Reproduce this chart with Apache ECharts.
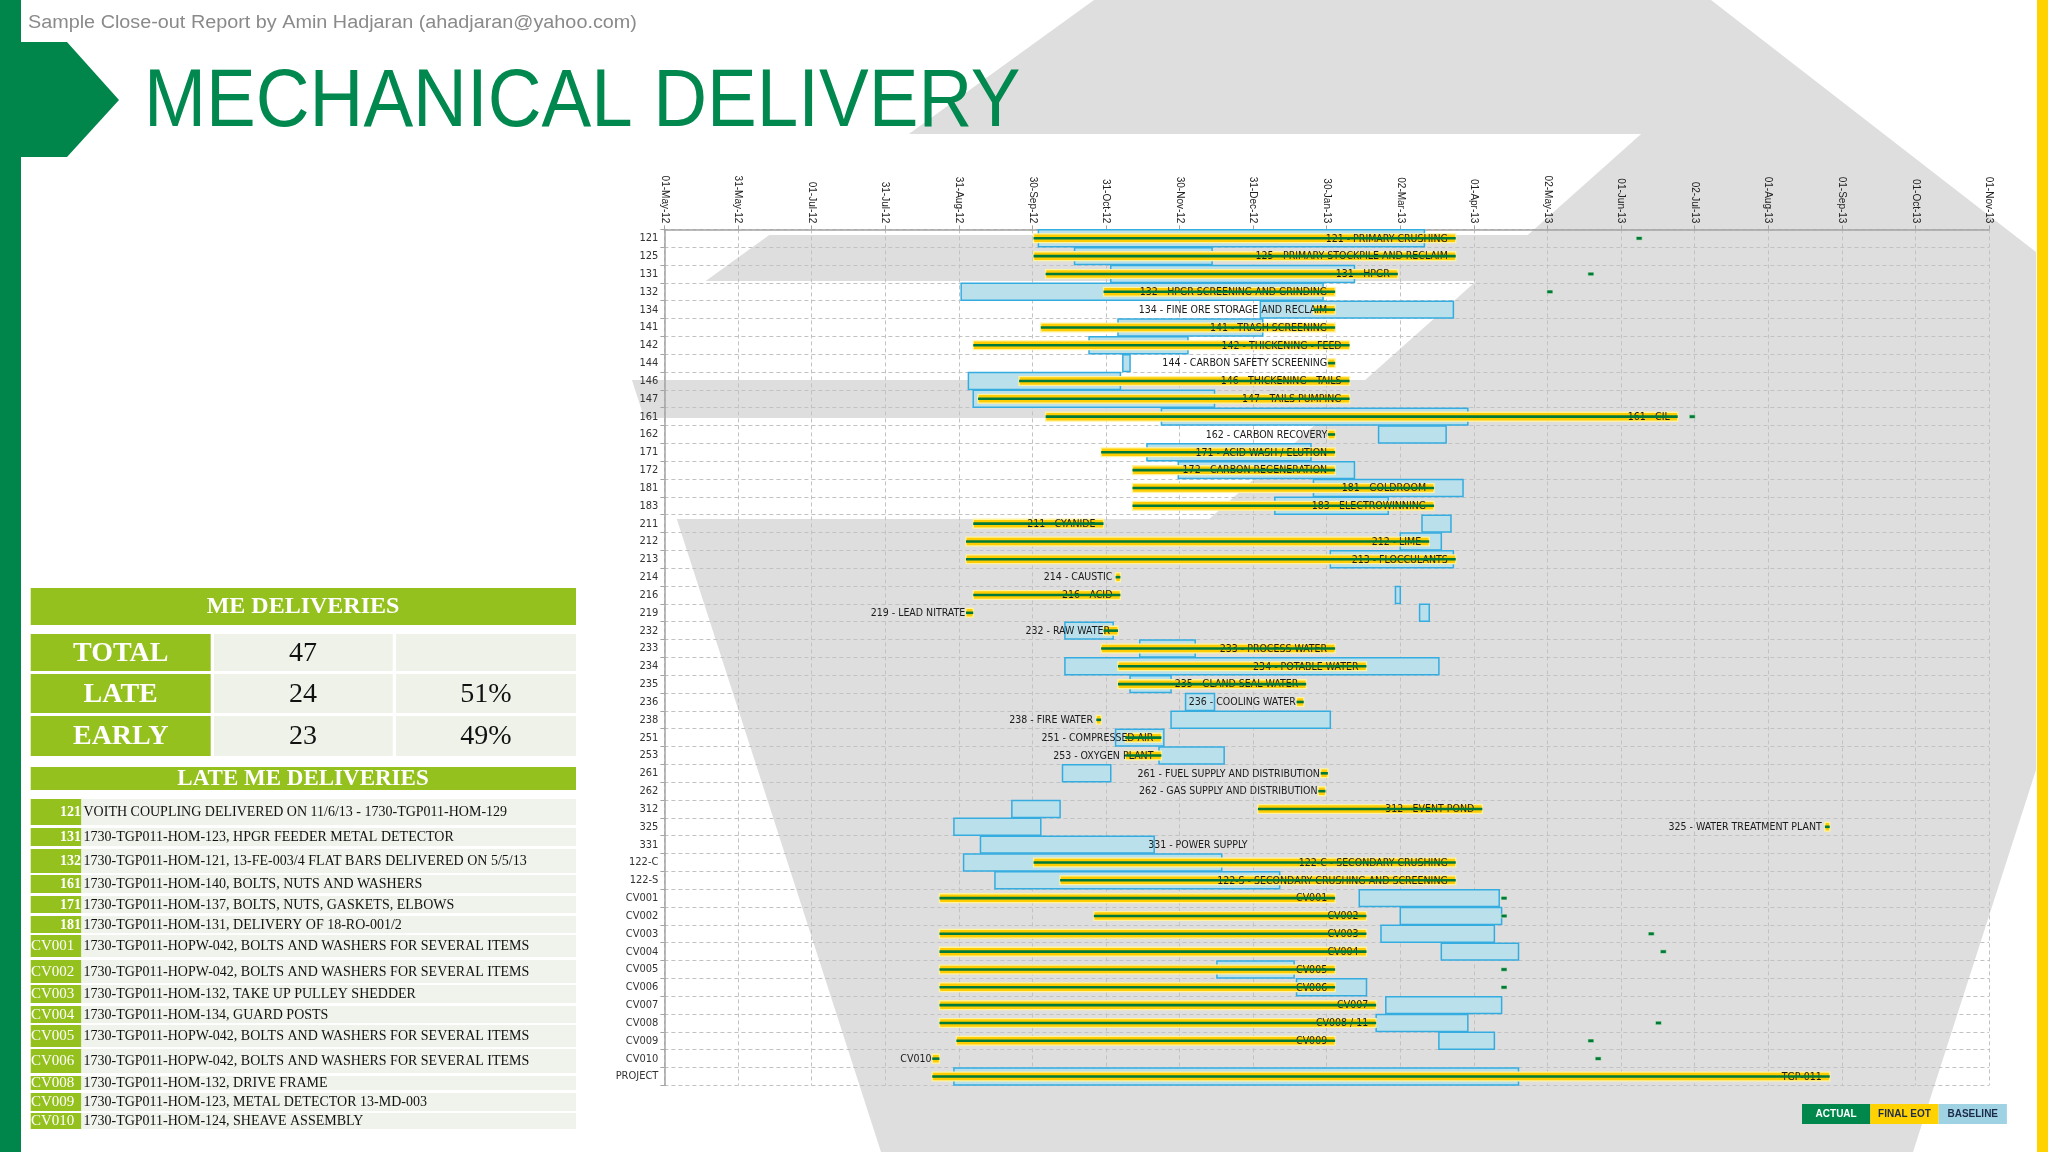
<!DOCTYPE html>
<html>
<head>
<meta charset="utf-8">
<script src="https://cdn.jsdelivr.net/npm/echarts/dist/echarts.min.js"></script>
<style>
html,body{margin:0;padding:0;background:#ffffff;}
#c{width:2048px;height:1152px;}
</style>
</head>
<body>
<div id="c"></div>
<script>
// ---------------- DATA ----------------
const rowCodes = ['121','125','131','132','134','141','142','144','146','147','161','162','171','172','181','183',
  '211','212','213','214','216','219','232','233','234','235','236','238','251','253','261','262',
  '312','325','331','122-C','122-S','CV001','CV002','CV003','CV004','CV005','CV006','CV007','CV008','CV009','CV010','PROJECT'];

const rowNames = ['121 - PRIMARY CRUSHING','125 - PRIMARY STOCKPILE AND RECLAIM','131 - HPGR','132 - HPGR SCREENING AND GRINDING',
  '134 - FINE ORE STORAGE AND RECLAIM','141 - TRASH SCREENING','142 - THICKENING - FEED','144 - CARBON SAFETY SCREENING',
  '146 - THICKENING - TAILS','147 - TAILS PUMPING','161 - CIL','162 - CARBON RECOVERY','171 - ACID WASH / ELUTION',
  '172 - CARBON REGENERATION','181 - GOLDROOM','183 - ELECTROWINNING','211 - CYANIDE','212 - LIME','213 - FLOCCULANTS',
  '214 - CAUSTIC','216 - ACID','219 - LEAD NITRATE','232 - RAW WATER','233 - PROCESS WATER','234 - POTABLE WATER',
  '235 - GLAND SEAL WATER','236 - COOLING WATER','238 - FIRE WATER','251 - COMPRESSED AIR','253 - OXYGEN PLANT',
  '261 - FUEL SUPPLY AND DISTRIBUTION','262 - GAS SUPPLY AND DISTRIBUTION','312 - EVENT POND','325 - WATER TREATMENT PLANT',
  '331 - POWER SUPPLY','122-C - SECONDARY CRUSHING','122-S - SECONDARY CRUSHING AND SCREENING','CV001','CV002','CV003',
  'CV004','CV005','CV006','CV007','CV008 / 11','CV009','CV010','TGP-011'];

const baselineStart = ['2012-10-03','2012-10-18','2012-11-02','2012-09-01','2013-01-03','2012-11-05','2012-10-24','2012-11-07',
  '2012-09-04','2012-09-06','2012-11-23','2013-02-21','2012-11-17','2012-11-30','2013-01-25','2013-01-09',
  '2013-03-11','2013-03-02','2013-02-01',null,'2013-02-28','2013-03-10','2012-10-14','2012-11-14','2012-10-14',
  '2012-11-10','2012-12-03','2012-11-27','2012-11-04','2012-11-22','2012-10-13',null,
  '2012-09-22','2012-08-29','2012-09-09','2012-09-02','2012-09-15','2013-02-13','2013-03-02','2013-02-22',
  '2013-03-19','2012-12-16','2013-01-18','2013-02-24','2013-02-20','2013-03-18',null,'2012-08-29'];
const baselineEnd = ['2013-03-12','2012-12-14','2013-02-11','2013-01-29','2013-03-24','2013-01-04','2012-12-04','2012-11-10',
  '2012-11-06','2012-12-15','2013-03-30','2013-03-21','2013-01-24','2013-02-11','2013-03-28','2013-02-25',
  '2013-03-23','2013-03-19','2013-03-24',null,'2013-03-02','2013-03-14','2012-11-03','2012-12-07','2013-03-18',
  '2012-11-27','2012-12-15','2013-02-01','2012-11-24','2012-12-19','2012-11-02',null,
  '2012-10-12','2012-10-04','2012-11-20','2012-12-18','2013-01-11','2013-04-12','2013-04-13','2013-04-10',
  '2013-04-20','2013-01-17','2013-02-16','2013-04-13','2013-03-30','2013-04-10',null,'2013-04-20'];

const finalEotStart = ['2012-10-01','2012-10-01','2012-10-06','2012-10-30','2013-01-25','2012-10-04','2012-09-06','2013-01-31',
  '2012-09-25','2012-09-08','2012-10-06','2013-01-31','2012-10-29','2012-11-11','2012-11-11','2012-11-11',
  '2012-09-06','2012-09-03','2012-09-03','2012-11-04','2012-09-06','2012-09-03','2012-10-30','2012-10-29','2012-11-05',
  '2012-11-05','2013-01-18','2012-10-27','2012-11-08','2012-11-08','2013-01-28','2013-01-27',
  '2013-01-02','2013-08-25','2013-01-01','2012-10-01','2012-10-12','2012-08-23','2012-10-26','2012-08-23',
  '2012-08-23','2012-08-23','2012-08-23','2012-08-23','2012-08-23','2012-08-30','2012-08-20','2012-08-20'];
const finalEotEnd = ['2013-03-25','2013-03-25','2013-03-01','2013-02-03','2013-02-03','2013-02-03','2013-02-09','2013-02-03',
  '2013-02-09','2013-02-09','2013-06-25','2013-02-03','2013-02-03','2013-02-03','2013-03-16','2013-03-16',
  '2012-10-30','2013-03-14','2013-03-25','2012-11-06','2012-11-06','2012-09-06','2012-11-05','2013-02-03','2013-02-16',
  '2013-01-22','2013-01-21','2012-10-29','2012-11-23','2012-11-23','2013-01-31','2013-01-30',
  '2013-04-05','2013-08-27','2013-01-01','2013-03-25','2013-03-25','2013-02-03','2013-02-16','2013-02-16',
  '2013-02-16','2013-02-03','2013-02-03','2013-02-20','2013-02-20','2013-02-03','2012-08-23','2013-08-27'];

// late actual delivery markers (small green dashes)
const lateActual = ['2013-06-09',null,'2013-05-20','2013-05-03',null,null,null,null,null,null,'2013-07-01',null,null,null,null,null,
  null,null,null,null,null,null,null,null,null,null,null,null,null,null,null,null,
  null,null,null,null,null,'2013-04-14','2013-04-14','2013-06-14','2013-06-19','2013-04-14','2013-04-14',null,'2013-06-17','2013-05-20','2013-05-23',null];

const summaryLabels = ['TOTAL','LATE','EARLY'];
const summaryCounts = ['47','24','23'];
const summaryPercents = ['','51%','49%'];

const lateCodes = ['121','131','132','161','171','181','CV001','CV002','CV003','CV004','CV005','CV006','CV008','CV009','CV010'];
const lateNotes = [
  'VOITH COUPLING DELIVERED ON 11/6/13 - 1730-TGP011-HOM-129',
  '1730-TGP011-HOM-123, HPGR FEEDER METAL DETECTOR',
  '1730-TGP011-HOM-121, 13-FE-003/4 FLAT BARS DELIVERED ON 5/5/13',
  '1730-TGP011-HOM-140, BOLTS, NUTS AND WASHERS',
  '1730-TGP011-HOM-137, BOLTS, NUTS, GASKETS, ELBOWS',
  '1730-TGP011-HOM-131, DELIVERY OF 18-RO-001/2',
  '1730-TGP011-HOPW-042, BOLTS AND WASHERS FOR SEVERAL ITEMS',
  '1730-TGP011-HOPW-042, BOLTS AND WASHERS FOR SEVERAL ITEMS',
  '1730-TGP011-HOM-132, TAKE UP PULLEY SHEDDER',
  '1730-TGP011-HOM-134, GUARD POSTS',
  '1730-TGP011-HOPW-042, BOLTS AND WASHERS FOR SEVERAL ITEMS',
  '1730-TGP011-HOPW-042, BOLTS AND WASHERS FOR SEVERAL ITEMS',
  '1730-TGP011-HOM-132, DRIVE FRAME',
  '1730-TGP011-HOM-123, METAL DETECTOR 13-MD-003',
  '1730-TGP011-HOM-124, SHEAVE ASSEMBLY'];

const legendNames = ['ACTUAL','FINAL EOT','BASELINE'];

// ---------------- HELPERS ----------------
const DAY0 = Date.UTC(2012, 4, 1);
const MON = ['Jan','Feb','Mar','Apr','May','Jun','Jul','Aug','Sep','Oct','Nov','Dec'];
function dayOf(s){ const p = s.split('-').map(Number); return (Date.UTC(p[0], p[1]-1, p[2]) - DAY0) / 86400000; }
function fmtDay(v){
  const d = new Date(DAY0 + Math.floor(v + 1e-6) * 86400000);
  const dd = String(d.getUTCDate()).padStart(2,'0');
  return dd + '-' + MON[d.getUTCMonth()] + '-' + String(d.getUTCFullYear()).slice(2);
}

const C_GREEN = '#00874b', C_LIME = '#95c11f', C_YEL = '#ffcc00';
const FONT_BAR = '"Liberation Sans Narrow","DejaVu Sans Condensed",sans-serif';

const baseData = [], eotData = [], lateData = [];
rowCodes.forEach((c, i) => {
  if (baselineStart[i]) baseData.push([i, dayOf(baselineStart[i]), dayOf(baselineEnd[i])]);
  eotData.push([i, dayOf(finalEotStart[i]), dayOf(finalEotEnd[i])]);
  if (lateActual[i]) lateData.push([i, dayOf(lateActual[i])]);
});

function renderBase(params, api){
  const yi = api.value(0);
  const s = api.coord([api.value(1), yi]);
  const e = api.coord([api.value(2), yi]);
  const h = api.size([0, 1])[1] * 0.95;
  return {type:'rect', shape:{x:s[0], y:s[1]-h/2, width:Math.max(e[0]-s[0], 2), height:h},
    style:{fill:'#b9e0eb', stroke:'#35ace0', lineWidth:1.5}};
}
function renderEot(params, api){
  const yi = api.value(0);
  const s = api.coord([api.value(1), yi]);
  const e = api.coord([api.value(2), yi]);
  const w = e[0] - s[0];
  const ch = [];
  if (w > 0.5) {
    ch.push({type:'rect', shape:{x:s[0], y:s[1]-4.4, width:w, height:8.8}, style:{fill:C_YEL, stroke:'#fff3a0', lineWidth:1.3}});
  }
  ch.push({type:'text', style:{text:rowNames[yi], x:e[0]-8, y:s[1]+0.5, align:'right', textAlign:'right',
    verticalAlign:'middle', textVerticalAlign:'middle', font:'10.5px ' + FONT_BAR, fill:'#1a1a1a'}});
  if (w > 0.5) {
    ch.push({type:'rect', shape:{x:s[0], y:s[1]-1.3, width:w, height:2.6}, style:{fill:'#007a38'}});
  }
  return {type:'group', children:ch};
}
function renderLate(params, api){
  const p = api.coord([api.value(1), api.value(0)]);
  return {type:'rect', shape:{x:p[0]-3, y:p[1]-1.8, width:6, height:3.6}, style:{fill:'#007a38', stroke:'#d9efd0', lineWidth:0.6}};
}

// ---------------- GRAPHIC (slide decoration, tables, legend) ----------------
const G = [];
G.push({type:'polygon', z:-100, shape:{points:[[1094,0],[1711,0],[2036,252],[2036,770],[1913,1152],[881,1152],[620,343]]}, style:{fill:'#dedede'}});
function diagX(y){ return 1474 - 1.1217 * (y - 283); }
[[134,235],[281,380],[418,519]].forEach(b => {
  G.push({type:'polygon', z:-99, shape:{points:[[560,b[0]],[diagX(b[0]),b[0]],[diagX(b[1]),b[1]],[560,b[1]]]}, style:{fill:'#ffffff'}});
});
G.push({type:'rect', z:-98, shape:{x:0, y:0, width:21, height:1152}, style:{fill:'#00854a'}});
G.push({type:'polygon', z:-98, shape:{points:[[21,42],[67,42],[119,100],[67,157],[21,157]]}, style:{fill:'#00854a'}});
G.push({type:'rect', z:-98, shape:{x:2037, y:0, width:11, height:1152}, style:{fill:'#ffd200'}});

function txt(x, y, text, font, fill, align, extra){
  return Object.assign({type:'text', x:x, y:y, z:10,
    style:{text:text, x:0, y:0, font:font, fill:fill, align:align, textAlign:align, verticalAlign:'middle', textVerticalAlign:'middle'}}, extra || {});
}
function box(x, y, w, h, fill){ return {type:'rect', z:5, shape:{x:x, y:y, width:w, height:h}, style:{fill:fill}}; }

G.push(txt(28, 23, 'Sample Close-out Report by Amin Hadjaran (ahadjaran@yahoo.com)', '18px "Liberation Sans",Arial,sans-serif', '#8a8a8a', 'left', {scaleX:1.1}));
G.push(txt(144, 104, 'MECHANICAL DELIVERY', '81px "Liberation Sans",Arial,sans-serif', '#00884f', 'left', {scaleX:0.92}));

const SERIF = '"Liberation Serif","Times New Roman",serif';
// ME DELIVERIES summary table
G.push(box(30.7, 588, 545.3, 37, C_LIME));
G.push(txt(303, 607, 'ME DELIVERIES', 'bold 24px ' + SERIF, '#ffffff', 'center'));
const sumTop = [634, 674, 716], sumH = [37, 39, 40];
summaryLabels.forEach((lab, i) => {
  const t = sumTop[i], h = sumH[i], cy = t + h/2 + 1;
  G.push(box(30.7, t, 180, h, C_LIME));
  G.push(box(214, t, 178.7, h, '#eef2e8'));
  G.push(box(396, t, 180, h, '#eef2e8'));
  G.push(txt(120.7, cy, lab, 'bold 28px ' + SERIF, '#ffffff', 'center'));
  G.push(txt(303, cy, summaryCounts[i], '28px ' + SERIF, '#111111', 'center'));
  if (summaryPercents[i]) G.push(txt(486, cy, summaryPercents[i], '28px ' + SERIF, '#111111', 'center'));
});
// LATE ME DELIVERIES list
G.push(box(30.7, 767, 545.3, 23, C_LIME));
G.push(txt(303, 779.5, 'LATE ME DELIVERIES', 'bold 23px ' + SERIF, '#ffffff', 'center'));
const lateRowLayout = [[799,26],[828,18],[849,24],[875,18],[896,17],[916,17],[935,22],[960,23],[985,18],[1006,17],[1025,22],[1049,24],[1076,14],[1093,18],[1113,16]];
lateCodes.forEach((code, i) => {
  const t = lateRowLayout[i][0], h = lateRowLayout[i][1], cy = t + h/2 + 0.5;
  G.push(box(30.7, t, 50.7, h, C_LIME));
  G.push(box(81.4, t, 494.6, h, '#f0f3ec'));
  if (/^CV/.test(code)) G.push(txt(31, cy, code, '15px ' + SERIF, '#ffffff', 'left'));
  else G.push(txt(81, cy, code, 'bold 14px ' + SERIF, '#ffffff', 'right'));
  G.push(txt(83.5, cy, lateNotes[i], '14px ' + SERIF, '#111111', 'left'));
});
// Legend
const legFill = [C_GREEN, '#ffd200', '#9fd3e4'];
const legText = ['#ffffff', '#1c2b4a', '#1c2b4a'];
legendNames.forEach((n, i) => {
  const x = 1802 + i * 68.3;
  G.push(box(x, 1104, 68.3, 20, legFill[i]));
  G.push(txt(x + 34.15, 1114.5, n, 'bold 10px "Liberation Sans",Arial,sans-serif', legText[i], 'center'));
});

// ---------------- CHART ----------------
const chart = echarts.init(document.getElementById('c'), null, {renderer:'canvas'});
chart.setOption({
  animation:false,
  backgroundColor:'transparent',
  graphic:{elements:G},
  grid:{left:664.4, top:229.4, right:59, bottom:66.6, containLabel:false},
  xAxis:{
    type:'value', position:'top', min:0, max:549, interval:30.5,
    axisLine:{show:true, lineStyle:{color:'#a3a3a3', width:1.5}},
    axisTick:{show:true, length:4, lineStyle:{color:'#a3a3a3'}},
    axisLabel:{rotate:90, formatter:fmtDay, fontSize:10, fontFamily:'"Liberation Sans",Arial,sans-serif', color:'#222222', margin:6},
    splitLine:{show:true, lineStyle:{type:[4,3], color:'#c2c2c2', width:1}}
  },
  yAxis:{
    type:'category', inverse:true, data:rowCodes,
    axisLine:{show:true, lineStyle:{color:'#a3a3a3', width:1.5}},
    axisTick:{show:true, length:4, lineStyle:{color:'#a3a3a3'}},
    axisLabel:{interval:0, fontSize:11, fontFamily:FONT_BAR, color:'#333333', margin:6},
    splitLine:{show:true, interval:0, lineStyle:{type:[4,3], color:'#c2c2c2', width:1}}
  },
  series:[
    {name:'BASELINE', type:'custom', silent:true, renderItem:renderBase, encode:{x:[1,2], y:0}, data:baseData, clip:false},
    {name:'FINAL EOT', type:'custom', silent:true, renderItem:renderEot, encode:{x:[1,2], y:0}, data:eotData, clip:false},
    {name:'ACTUAL', type:'custom', silent:true, renderItem:renderLate, encode:{x:1, y:0}, data:lateData, clip:false}
  ]
});
</script>
</body>
</html>
